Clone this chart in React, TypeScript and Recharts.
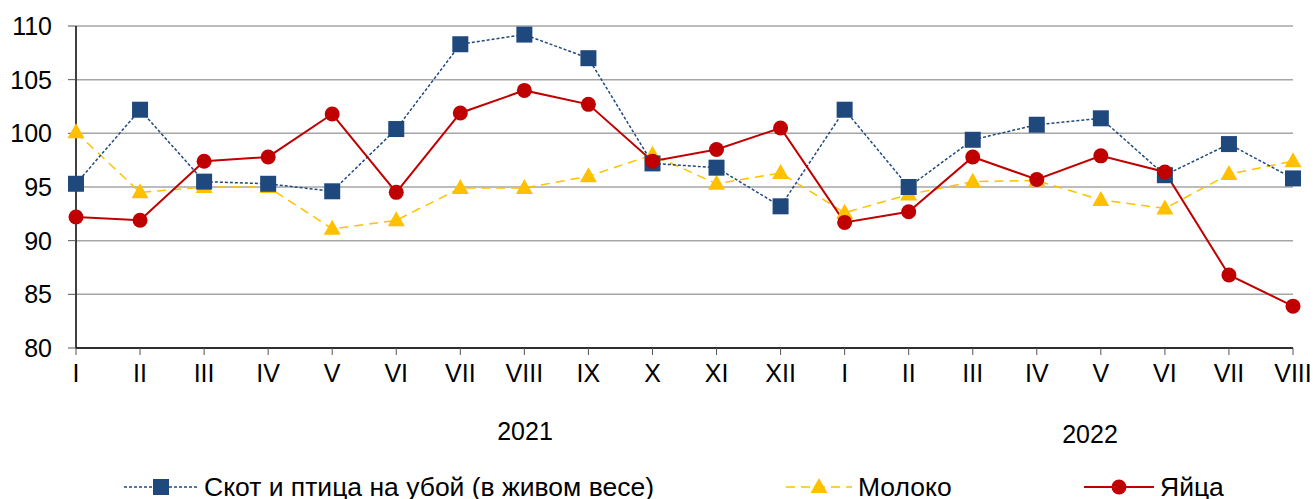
import React from 'react';
import { LineChart, Line, XAxis, YAxis, CartesianGrid } from 'recharts';

const months = ['I', 'II', 'III', 'IV', 'V', 'VI', 'VII', 'VIII', 'IX', 'X', 'XI', 'XII', 'I', 'II', 'III', 'IV', 'V', 'VI', 'VII', 'VIII'];
const cattle = [95.3, 102.2, 95.5, 95.3, 94.6, 100.4, 108.3, 109.2, 107.0, 97.2, 96.8, 93.2, 102.2, 95.0, 99.4, 100.8, 101.4, 96.1, 99.0, 95.8];
const milk = [100.1, 94.5, 95.0, 95.0, 91.1, 91.9, 94.9, 94.9, 96.0, 98.0, 95.3, 96.3, 92.6, 94.3, 95.5, 95.6, 93.8, 93.0, 96.2, 97.4];
const eggs = [92.2, 91.9, 97.4, 97.8, 101.8, 94.5, 101.9, 104.0, 102.7, 97.4, 98.5, 100.5, 91.7, 92.7, 97.8, 95.7, 97.9, 96.4, 86.8, 83.9];
const yTicks = [80, 85, 90, 95, 100, 105, 110];
const years = ['2021', '2022'];
const seriesNames = ['Скот и птица на убой (в живом весе)', 'Молоко', 'Яйца'];

const data = months.map((m, i) => ({ idx: i, m, cattle: cattle[i], milk: milk[i], eggs: eggs[i] }));
const xTicks = data.map(d => d.idx);

const BLUE = '#1F497D';
const YELLOW = '#FFC000';
const RED = '#C00000';
const FONT = '"Liberation Sans", Arial, sans-serif';

const SquareDot = (p: any) => (
  <rect key={p.index} x={p.cx - 8} y={p.cy - 8} width={16} height={16} fill={BLUE} />
);
const TriDot = (p: any) => (
  <polygon key={p.index} points={`${p.cx},${p.cy - 9} ${p.cx + 8.5},${p.cy + 6} ${p.cx - 8.5},${p.cy + 6}`} fill={YELLOW} />
);
const CircleDot = (p: any) => (
  <circle key={p.index} cx={p.cx} cy={p.cy} r={7.5} fill={RED} />
);

const LegendItem = ({ left, lineW, kind, label }: { left: number; lineW: number; kind: string; label: string }) => {
  const mid = lineW / 2;
  return (
    <div style={{ position: 'absolute', left, top: 472, display: 'flex', alignItems: 'center', height: 30 }}>
      <svg width={lineW} height={30}>
        {kind === 'sq' && <>
          <line x1={0} x2={lineW} y1={15} y2={15} stroke={BLUE} strokeWidth={1.5} strokeDasharray="3 2" />
          <rect x={mid - 8} y={7} width={16} height={16} fill={BLUE} />
        </>}
        {kind === 'tri' && <>
          <line x1={0} x2={lineW} y1={15} y2={15} stroke={YELLOW} strokeWidth={1.5} strokeDasharray="9 6" />
          <polygon points={`${mid},${6} ${mid + 8.5},${21} ${mid - 8.5},${21}`} fill={YELLOW} />
        </>}
        {kind === 'circ' && <>
          <line x1={0} x2={lineW} y1={15} y2={15} stroke={RED} strokeWidth={2} />
          <circle cx={mid} cy={15} r={7.5} fill={RED} />
        </>}
      </svg>
      <span style={{ marginLeft: 6, fontSize: 26.5, fontFamily: FONT, color: '#000', whiteSpace: 'nowrap' }}>{label}</span>
    </div>
  );
};

export default function App() {
  return (
    <div style={{ position: 'absolute', left: 0, top: 0, width: 1315, height: 499, background: '#fff' }}>
      <LineChart width={1315} height={499} data={data} margin={{ top: 26, right: 22, left: 0, bottom: 111 }}>
        <CartesianGrid vertical={false} stroke="#A6A6A6" strokeWidth={1.5} />
        <XAxis
          dataKey="idx"
          type="number"
          domain={[0, months.length - 1]}
          ticks={xTicks}
          tickFormatter={(v: number) => months[v]}
          interval={0}
          height={40}
          tickSize={7}
          tickMargin={9}
          axisLine={{ stroke: '#000', strokeWidth: 1.5 }}
          tickLine={{ stroke: '#555' }}
          tick={{ fill: '#000', fontSize: 25, fontFamily: FONT }}
        />
        <YAxis
          domain={[80, 110]}
          ticks={yTicks}
          width={76}
          tickSize={8}
          tickMargin={16}
          axisLine={{ stroke: '#000', strokeWidth: 1.5 }}
          tickLine={{ stroke: '#555' }}
          tick={{ fill: '#000', fontSize: 25, fontFamily: FONT }}
        />
        <Line dataKey="milk" stroke={YELLOW} strokeWidth={1.5} strokeDasharray="9 6" dot={TriDot} activeDot={false} isAnimationActive={false} />
        <Line dataKey="cattle" stroke={BLUE} strokeWidth={1.5} strokeDasharray="3 2" dot={SquareDot} activeDot={false} isAnimationActive={false} />
        <Line dataKey="eggs" stroke={RED} strokeWidth={2} dot={CircleDot} activeDot={false} isAnimationActive={false} />
      </LineChart>
      <div style={{ position: 'absolute', left: 480, top: 417, width: 90, textAlign: 'center', fontSize: 25, fontFamily: FONT }}>{years[0]}</div>
      <div style={{ position: 'absolute', left: 1045, top: 420, width: 90, textAlign: 'center', fontSize: 25, fontFamily: FONT }}>{years[1]}</div>
      <LegendItem left={124} lineW={74} kind="sq" label={seriesNames[0]} />
      <LegendItem left={786} lineW={66} kind="tri" label={seriesNames[1]} />
      <LegendItem left={1084} lineW={70} kind="circ" label={seriesNames[2]} />
    </div>
  );
}
